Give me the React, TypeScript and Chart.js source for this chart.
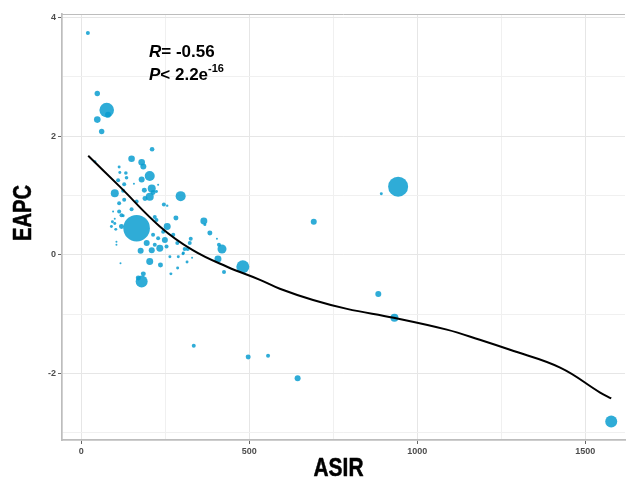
import React, { useEffect, useRef } from "react";
import { Chart, registerables } from "chart.js";

Chart.register(...registerables);

// ASIR (x), EAPC (y) and case count (bubble size) per country
const asir = [
  20, 48, 76, 80, 48, 61, 211, 943, 893, 692, 884, 932, 335, 497, 556, 644, 1577,
  150, 180, 185, 204, 180, 113, 115, 133, 135, 157, 41, 110, 128, 100, 125, 188, 210,
  214, 204, 190, 165, 229, 224, 246, 256, 296, 128, 113, 150, 95, 113, 120, 219, 282,
  100, 165, 125, 93, 100, 120, 90, 103, 105, 105, 224, 256, 244, 214, 229, 249, 195,
  219, 234, 210, 254, 274, 286, 177, 204, 236, 264, 289, 304, 287, 267, 117, 185, 180,
  170, 365, 383, 404, 410, 419, 407, 425, 481, 326, 323, 308, 317, 303, 315, 330, 368,
];
const eapc = [
  3.74, 2.72, 2.44, 2.36, 2.28, 2.08, 1.78, 1.15, 1.03, 0.56, -0.66, -1.06, -1.53, -1.72, -1.7, -2.08, -2.81,
  1.62, 1.56, 1.49, 1.33, 1.27, 1.48, 1.39, 1.38, 1.3, 1.2, 1.57, 1.26, 1.19, 1.04, 1.08, 1.09, 1.12,
  1.05, 0.98, 0.95, 0.9, 1.18, 1.07, 0.85, 0.83, 0.99, 0.93, 0.87, 0.77, 0.73, 0.73, 0.67, 0.64, 0.62,
  0.61, 0.45, 0.66, 0.56, 0.53, 0.48, 0.48, 0.43, 0.22, 0.17, 0.59, 0.48, 0.39, 0.34, 0.28, 0.25, 0.2,
  0.17, 0.11, 0.08, 0.14, 0.34, 0.2, 0.07, -0.11, -0.17, -0.03, -0.03, 0.03, -0.22, -0.32, -0.14, -0.32, -0.45,
  -0.39, 0.57, 0.37, 0.27, 0.17, 0.1, -0.07, -0.29, -0.2, 0.27, 0.2, 0.1, 0.1, 0.02, -0.12, -0.05, 0.51,
];
const cases = [
  40, 73, 533, 90, 109, 73, 53, 1000, 22, 90, 90, 160, 40, 62, 40, 90, 360,
  109, 109, 90, 250, 90, 22, 22, 32, 32, 10, 22, 40, 40, 160, 40, 62, 160,
  62, 160, 62, 40, 10, 22, 40, 14, 250, 40, 40, 40, 10, 40, 40, 40, 62,
  10, 1769, 22, 22, 22, 62, 22, 22, 10, 10, 40, 122, 40, 40, 40, 90, 90,
  40, 122, 90, 40, 40, 40, 90, 122, 62, 22, 22, 22, 22, 22, 10, 62, 360,
  62, 122, 62, 10, 40, 202, 122, 40, 422, 40, 40, 40, 40, 22, 22, 10, 22,
];

// smoothed fit curve
const fitX = [21, 115, 234, 332, 434, 532, 591, 690, 791, 930, 1088, 1186, 1276, 1425, 1544, 1577];
const fitY = [1.67, 1.15, 0.48, 0.08, -0.2, -0.42, -0.57, -0.76, -0.91, -1.06, -1.26, -1.43, -1.6, -1.9, -2.32, -2.42];

const xTicks = [0, 250, 500, 750, 1000, 1250, 1500];
const yTicks = [-3, -2, -1, 0, 1, 2, 3, 4];

const FONT = '"Liberation Sans", Arial, sans-serif';

const textPlugin = {
  id: "texts",
  afterDraw(chart: any) {
    const ctx = chart.ctx;
    const area = chart.chartArea;
    ctx.save();
    // top border
    ctx.strokeStyle = "#bdbdbd";
    ctx.lineWidth = 1;
    ctx.beginPath();
    ctx.moveTo(area.left, area.top + 0.5);
    ctx.lineTo(area.right, area.top + 0.5);
    ctx.stroke();

    ctx.fillStyle = "#000";
    ctx.textBaseline = "alphabetic";
    ctx.textAlign = "left";
    // annotation
    let x = 149;
    ctx.font = `italic bold 17px ${FONT}`;
    ctx.fillText("R", x, 57);
    x += ctx.measureText("R").width;
    ctx.font = `bold 17px ${FONT}`;
    ctx.fillText("= -0.56", x, 57);

    x = 149;
    ctx.font = `italic bold 17px ${FONT}`;
    ctx.fillText("P", x, 80);
    x += ctx.measureText("P").width;
    ctx.font = `bold 17px ${FONT}`;
    ctx.fillText("< 2.2e", x, 80);
    x += ctx.measureText("< 2.2e").width;
    ctx.font = `bold 11px ${FONT}`;
    ctx.fillText("-16", x, 72);

    // axis titles (narrow heavy bold)
    ctx.font = `bold 25px ${FONT}`;
    ctx.textAlign = "center";
    ctx.strokeStyle = "#000";
    ctx.lineWidth = 0.5;
    ctx.lineJoin = "round";
    const wA = ctx.measureText("ASIR").width;
    ctx.save();
    ctx.translate(338.5, 476);
    ctx.scale(50 / wA, 1);
    ctx.fillText("ASIR", 0, 0);
    ctx.strokeText("ASIR", 0, 0);
    ctx.restore();

    const wE = ctx.measureText("EAPC").width;
    ctx.save();
    ctx.translate(30.5, 213);
    ctx.rotate(-Math.PI / 2);
    ctx.scale(56 / wE, 1);
    ctx.fillText("EAPC", 0, 0);
    ctx.strokeText("EAPC", 0, 0);
    ctx.restore();
    ctx.restore();
  },
};

export default function App() {
  const ref = useRef<HTMLCanvasElement>(null);
  useEffect(() => {
    document.body.style.margin = "0";
    const points = asir.map((v, i) => ({ x: v, y: eapc[i], r: Math.sqrt(cases[i] / 10) }));
    const fit = fitX.map((v, i) => ({ x: v, y: fitY[i] }));
    const chart = new Chart(ref.current!, {
      type: "bubble",
      data: {
        datasets: [
          {
            type: "line",
            data: fit,
            borderColor: "#000",
            borderWidth: 2,
            pointRadius: 0,
            tension: 0.4,
            fill: false,
            order: 0,
          } as any,
          {
            type: "bubble",
            data: points,
            backgroundColor: "rgba(10,158,208,0.85)",
            borderWidth: 0,
            order: 1,
          } as any,
        ],
      },
      plugins: [textPlugin],
      options: {
        animation: false,
        responsive: false,
        events: [],
        layout: { autoPadding: false, padding: { top: 14, right: 1, left: 0, bottom: 0 } },
        plugins: { legend: { display: false }, tooltip: { enabled: false } },
        scales: {
          x: {
            type: "linear",
            min: -57,
            max: 1618,
            afterBuildTicks: (s: any) => {
              s.ticks = xTicks.map((v) => ({ value: v }));
            },
            afterFit: (s: any) => {
              s.height = 39;
              s.paddingLeft = 0;
              s.paddingRight = 0;
            },
            ticks: {
              autoSkip: false,
              maxRotation: 0,
              padding: 2,
              color: "#4d4d4d",
              font: { family: FONT, size: 9, weight: "bold" },
              callback: (v: any) => (v % 500 === 0 ? String(v) : ""),
            },
            grid: {
              color: (c: any) => (c.tick && c.tick.value % 500 === 0 ? "#e6e6e6" : "#f0f0f0"),
              tickColor: (c: any) => (c.tick && c.tick.value % 500 === 0 ? "#666" : "rgba(0,0,0,0)"),
              tickLength: 4,
              lineWidth: 1,
            },
            border: { display: true, color: "#bdbdbd", width: 1.7 },
          },
          y: {
            type: "linear",
            min: -3.12,
            max: 4.06,
            afterBuildTicks: (s: any) => {
              s.ticks = yTicks.map((v) => ({ value: v }));
            },
            afterFit: (s: any) => {
              s.width = 62;
              s.paddingTop = 0;
              s.paddingBottom = 0;
            },
            ticks: {
              autoSkip: false,
              padding: 2,
              color: "#4d4d4d",
              font: { family: FONT, size: 9, weight: "bold" },
              callback: (v: any) => (v % 2 === 0 ? String(v) : ""),
            },
            grid: {
              color: (c: any) => (c.tick && c.tick.value % 2 === 0 ? "#e6e6e6" : "#f0f0f0"),
              tickColor: (c: any) => (c.tick && c.tick.value % 2 === 0 ? "#666" : "rgba(0,0,0,0)"),
              tickLength: 4,
              lineWidth: 1,
            },
            border: { display: true, color: "#bdbdbd", width: 1.7 },
          },
        },
      } as any,
    });
    return () => chart.destroy();
  }, []);
  return (
    <div style={{ width: 626, height: 479 }}>
      <canvas ref={ref} width={626} height={479} />
    </div>
  );
}
